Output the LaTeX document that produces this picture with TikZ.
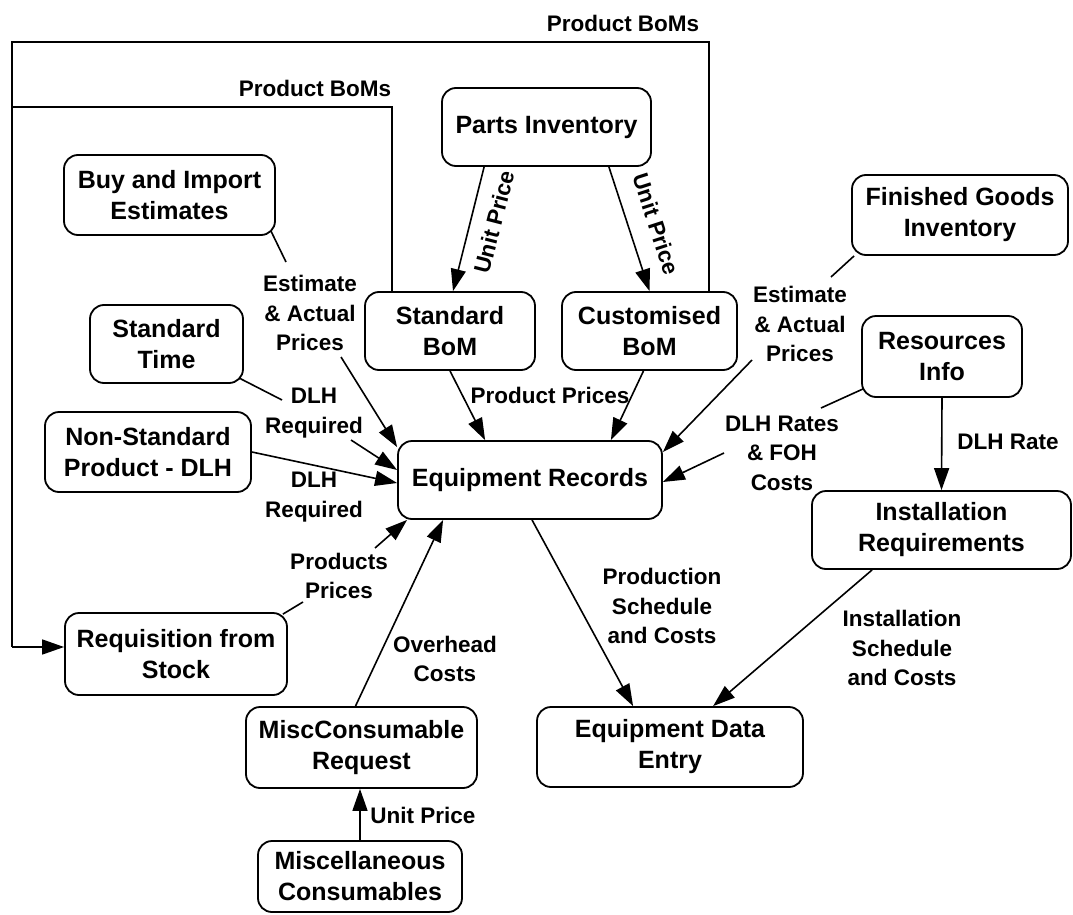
\documentclass[tikz,border=0pt]{standalone}
\usepackage{fontspec}
\setmainfont{Liberation Sans}
\usetikzlibrary{arrows.meta,calc}
\begin{document}
\begin{tikzpicture}[x=1pt,y=-1pt,
  box/.style={draw, line width=1.8pt, rounded corners=14pt, align=center,
    font=\fontsize{25}{31}\selectfont\bfseries, inner sep=0pt},
  lbl/.style={align=center, font=\fontsize{22.5}{29.5}\selectfont\bfseries, inner sep=0pt},
  con/.style={line width=1.6pt},
  arr/.style={line width=1.6pt, -{Triangle[length=22pt,width=15pt]}}]
\useasboundingbox (0,0) rectangle (1073,915);

% boxes
\node[box, minimum width=209pt, minimum height=78pt] (parts) at (546.5,127) {Parts Inventory};
\node[box, minimum width=211pt, minimum height=80pt] (buy) at (169.5,195) {Buy and Import\\Estimates};
\node[box, minimum width=216pt, minimum height=80pt] (fgi) at (960,215) {Finished Goods\\Inventory};
\node[box, minimum width=170pt, minimum height=78pt] (stdbom) at (450,331) {Standard\\BoM};
\node[box, minimum width=175pt, minimum height=78pt] (cusbom) at (649.5,331) {Customised\\BoM};
\node[box, minimum width=153pt, minimum height=78pt] (stdtime) at (166.5,344) {Standard\\Time};
\node[box, minimum width=160pt, minimum height=81pt] (resinfo) at (942,356.5) {Resources\\Info};
\node[box, minimum width=206pt, minimum height=80pt] (nonstd) at (148,452) {Non-Standard\\Product - DLH};
\node[box, minimum width=264pt, minimum height=78pt] (er) at (530,480) {Equipment Records};
\node[box, minimum width=259pt, minimum height=78pt] (inst) at (941.5,530) {Installation\\Requirements};
\node[box, minimum width=222pt, minimum height=82pt] (req) at (176,654) {Requisition from\\Stock};
\node[box, minimum width=231pt, minimum height=81pt] (mcr) at (361.5,747.5) {MiscConsumable\\Request};
\node[box, minimum width=266pt, minimum height=80pt] (ede) at (670,747) {Equipment Data\\Entry};
\node[box, minimum width=204pt, minimum height=71pt] (misc) at (360,876.5) {Miscellaneous\\Consumables};

% labels
\node[lbl] (lpb1) at (315,88) {Product BoMs};
\node[lbl] (lpb2) at (623,23) {Product BoMs};
\node[lbl, rotate=75.6] (lup1) at (494,222) {Unit Price};
\node[lbl, rotate=-72] (lup2) at (656,224) {Unit Price};
\node[lbl] (lest1) at (310,313) {Estimate\\\& Actual\\Prices};
\node[lbl] (lest2) at (800,324) {Estimate\\\& Actual\\Prices};
\node[lbl] (ldlh1) at (314,413) {DLH\\Required};
\node[lbl] (ldlh2) at (314,497) {DLH\\Required};
\node[lbl] (lpp) at (550,395) {Product Prices};
\node[lbl] (ldlhr) at (782,453) {DLH Rates\\\& FOH\\Costs};
\node[lbl] (lrate) at (1008,442) {DLH Rate};
\node[lbl] (lprod) at (662,606) {Production\\Schedule\\and Costs};
\node[lbl] (linst) at (902,648) {Installation\\Schedule\\and Costs};
\node[lbl] (lprp) at (339,576) {Products\\Prices};
\node[lbl] (loh) at (445,659) {Overhead\\Costs};
\node[lbl] (lup3) at (423,815) {Unit Price};

% free-end coordinates
\coordinate (f0) at (12,42);
\coordinate (f1) at (12,107);
\coordinate (f2) at (12,647);
\coordinate (cBuy) at (286,262);
\coordinate (cEst1) at (341,357);
\coordinate (cStd) at (282,400);
\coordinate (cDlh1) at (351,440);
\coordinate (cReq) at (303,602);
\coordinate (cPP) at (375,548);
\coordinate (cFG) at (831,277);
\coordinate (cEst2) at (752,360);
\coordinate (cRes) at (821,408);
\coordinate (cDlhR) at (724,453);

% connectors
\draw[arr] ($(parts.south west)+(43,0)$) -- ($(stdbom.north)+(3,0)$);
\draw[arr] ($(parts.south east)+(-43,0)$) -- (cusbom.north);
\draw[con] ($(stdbom.north west)+(28,0)$) |- (f1);
\draw[con] ($(cusbom.north east)+(-29,0)$) |- (f0) -- (f2);
\draw[arr] (f2) -- (req.west |- f2);

\draw[con] ($(buy.south east)+(-5,-5)$) -- (cBuy);
\draw[arr] (cEst1) -- ($(er.north west)+(0,7)$);
\draw[con] ($(stdtime.south east)+(-5,-6)$) -- (cStd);
\draw[arr] (cDlh1) -- ($(er.west)+(0,-10)$);
\draw[arr] (nonstd.east) -- ($(er.west)+(0,3)$);
\draw[con] ($(req.north east)+(-5,2)$) -- (cReq);
\draw[arr] (cPP) -- ($(er.south west)+(10,0)$);
\draw[arr] ($(mcr.north)+(-6,0)$) -- ($(er.south west)+(46,0)$);
\draw[arr] (misc.north) -- (misc.north |- mcr.south);
\draw[arr] (stdbom.south) -- ($(er.north west)+(88,0)$);
\draw[arr] ($(cusbom.south)+(-6,0)$) -- ($(er.north east)+(-52,0)$);
\draw[con] ($(fgi.south west)+(3,0)$) -- (cFG);
\draw[arr] (cEst2) -- ($(er.east)+(0,-28)$);
\draw[con] ($(resinfo.south west)+(2,-9)$) -- (cRes);
\draw[arr] (cDlhR) -- ($(er.east)+(0,2)$);
\draw[arr] (resinfo.south) -- (inst.north);
\draw[arr] ($(er.south)+(2,0)$) -- ($(ede.north west)+(97,0)$);
\draw[arr] ($(inst.south west)+(61,0)$) -- ($(ede.north west)+(177,0)$);
\end{tikzpicture}
\end{document}
